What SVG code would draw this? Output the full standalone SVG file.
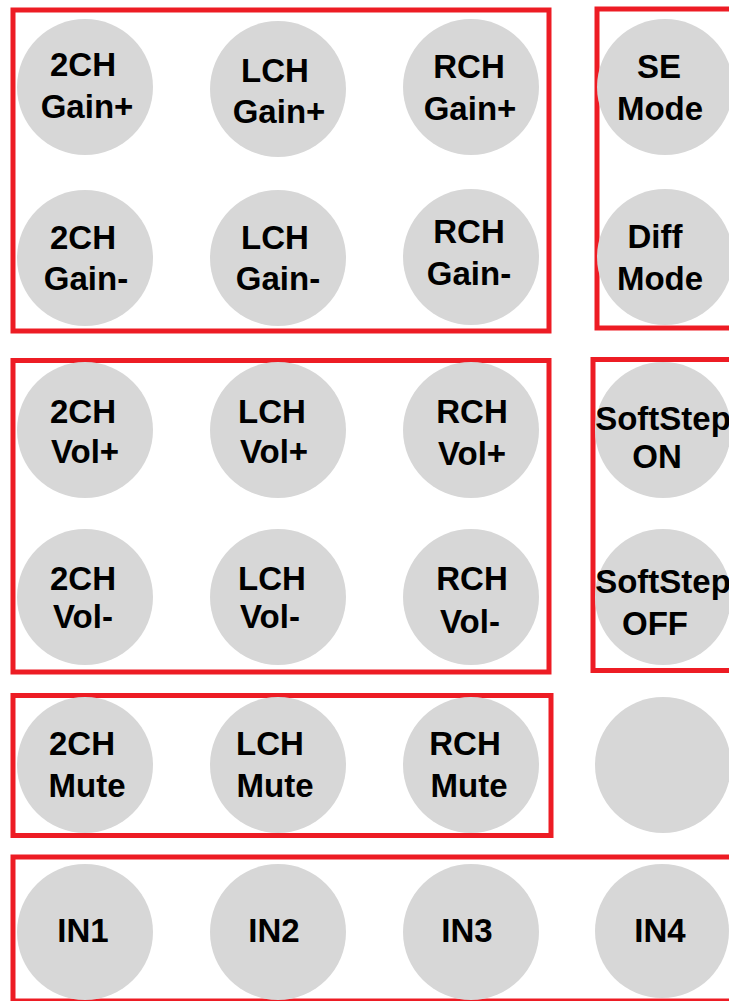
<svg xmlns="http://www.w3.org/2000/svg" width="729" height="1001" viewBox="0 0 729 1001">
<style>
.grp{fill:none;stroke:#ed1c24;stroke-width:5}
.btn{fill:#d7d7d7}
.lbl{font-family:"Liberation Sans",Arial,sans-serif;font-weight:bold;font-size:33px;fill:#000;text-anchor:middle}
</style>
<rect width="729" height="1001" fill="#fff"/>
<g id="groups">
<rect id="grp-gain" class="grp" x="13" y="10" width="536" height="321"/>
<rect id="grp-mode" class="grp" x="597" y="9" width="150" height="319"/>
<rect id="grp-vol" class="grp" x="13" y="360.5" width="536" height="311.5"/>
<rect id="grp-softstep" class="grp" x="593" y="359.5" width="150" height="311"/>
<rect id="grp-mute" class="grp" x="13" y="695.5" width="538" height="140"/>
<rect id="grp-input" class="grp" x="13" y="857" width="740" height="144"/>
</g>
<g id="connectors"></g>
<g id="n-2ch-gainp"><circle class="btn" cx="85" cy="87" r="68"/><text class="lbl"><tspan x="83" y="76">2CH</tspan><tspan x="87" y="118">Gain+</tspan></text></g>
<g id="n-lch-gainp"><circle class="btn" cx="278" cy="89" r="68"/><text class="lbl"><tspan x="275" y="82">LCH</tspan><tspan x="279" y="123">Gain+</tspan></text></g>
<g id="n-rch-gainp"><circle class="btn" cx="471" cy="87" r="68"/><text class="lbl"><tspan x="469" y="78">RCH</tspan><tspan x="470" y="120">Gain+</tspan></text></g>
<g id="n-se-mode"><circle class="btn" cx="665" cy="87" r="68"/><text class="lbl"><tspan x="659" y="78">SE</tspan><tspan x="660" y="120">Mode</tspan></text></g>
<g id="n-2ch-gainm"><circle class="btn" cx="85" cy="258" r="68"/><text class="lbl"><tspan x="83" y="249">2CH</tspan><tspan x="86" y="290">Gain-</tspan></text></g>
<g id="n-lch-gainm"><circle class="btn" cx="278" cy="258" r="68"/><text class="lbl"><tspan x="275" y="249">LCH</tspan><tspan x="278" y="290">Gain-</tspan></text></g>
<g id="n-rch-gainm"><circle class="btn" cx="471" cy="257" r="68"/><text class="lbl"><tspan x="469" y="243">RCH</tspan><tspan x="469" y="285">Gain-</tspan></text></g>
<g id="n-diff-mode"><circle class="btn" cx="665" cy="257" r="68"/><text class="lbl"><tspan x="655" y="248">Diff</tspan><tspan x="660" y="290">Mode</tspan></text></g>
<g id="n-2ch-volp"><circle class="btn" cx="85" cy="430" r="68"/><text class="lbl"><tspan x="83" y="423">2CH</tspan><tspan x="85" y="463">Vol+</tspan></text></g>
<g id="n-lch-volp"><circle class="btn" cx="278" cy="430" r="68"/><text class="lbl"><tspan x="272" y="423">LCH</tspan><tspan x="274" y="463">Vol+</tspan></text></g>
<g id="n-rch-volp"><circle class="btn" cx="471" cy="430" r="68"/><text class="lbl"><tspan x="472" y="423">RCH</tspan><tspan x="472" y="465">Vol+</tspan></text></g>
<g id="n-softstep-on"><circle class="btn" cx="663" cy="430" r="68"/><text class="lbl"><tspan x="663" y="430">SoftStep</tspan><tspan x="657" y="468">ON</tspan></text></g>
<g id="n-2ch-volm"><circle class="btn" cx="85" cy="597" r="68"/><text class="lbl"><tspan x="83" y="590">2CH</tspan><tspan x="83" y="628">Vol-</tspan></text></g>
<g id="n-lch-volm"><circle class="btn" cx="278" cy="597" r="68"/><text class="lbl"><tspan x="272" y="590">LCH</tspan><tspan x="270" y="628">Vol-</tspan></text></g>
<g id="n-rch-volm"><circle class="btn" cx="471" cy="597" r="68"/><text class="lbl"><tspan x="472" y="590">RCH</tspan><tspan x="470" y="633">Vol-</tspan></text></g>
<g id="n-softstep-off"><circle class="btn" cx="663" cy="597" r="68"/><text class="lbl"><tspan x="663" y="593">SoftStep</tspan><tspan x="655" y="635">OFF</tspan></text></g>
<g id="n-2ch-mute"><circle class="btn" cx="85" cy="765" r="68"/><text class="lbl"><tspan x="82" y="755">2CH</tspan><tspan x="87" y="797">Mute</tspan></text></g>
<g id="n-lch-mute"><circle class="btn" cx="278" cy="765" r="68"/><text class="lbl"><tspan x="270" y="755">LCH</tspan><tspan x="275" y="797">Mute</tspan></text></g>
<g id="n-rch-mute"><circle class="btn" cx="471" cy="765" r="68"/><text class="lbl"><tspan x="465" y="755">RCH</tspan><tspan x="469" y="797">Mute</tspan></text></g>
<g id="n-blank"><circle class="btn" cx="663" cy="765" r="68"/></g>
<g id="n-in1"><circle class="btn" cx="85" cy="932" r="68"/><text class="lbl" x="83" y="942">IN1</text></g>
<g id="n-in2"><circle class="btn" cx="278" cy="932" r="68"/><text class="lbl" x="274" y="942">IN2</text></g>
<g id="n-in3"><circle class="btn" cx="471" cy="932" r="68"/><text class="lbl" x="467" y="942">IN3</text></g>
<g id="n-in4"><circle class="btn" cx="662" cy="931" r="67"/><text class="lbl" x="660" y="942">IN4</text></g>
</svg>
